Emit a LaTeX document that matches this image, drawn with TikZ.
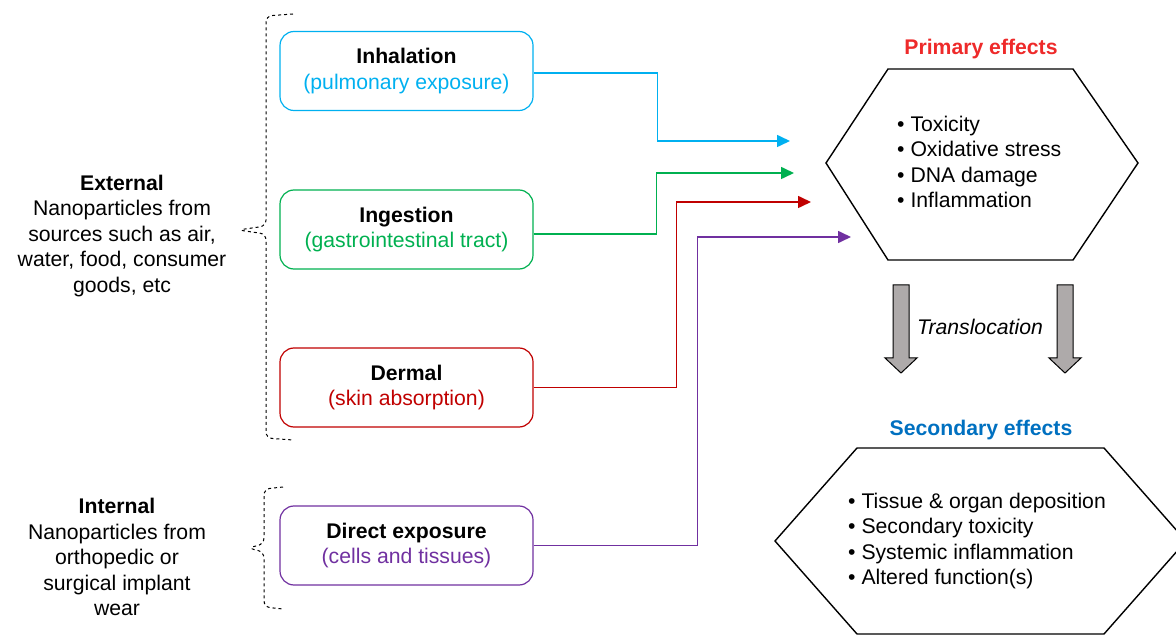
\documentclass[tikz,border=0pt]{standalone}
\usepackage{fontspec}
\setmainfont{Liberation Sans}
\usetikzlibrary{arrows.meta}
\definecolor{inhcol}{HTML}{00B0F0}
\definecolor{ingcol}{HTML}{00B050}
\definecolor{dercol}{HTML}{C00000}
\definecolor{dircol}{HTML}{7030A0}
\definecolor{pricol}{HTML}{EE2A2A}
\definecolor{seccol}{HTML}{0070C0}
\definecolor{trancol}{HTML}{AEAAAA}
\begin{document}
\begin{tikzpicture}[x=1pt, y=-1pt, >={Triangle[length=13pt,width=12pt]},
		every node/.style={font=\fontsize{21.2}{25.5}\selectfont, inner sep=0pt},
		route/.style={draw=#1, rounded corners=14pt, line width=1.2pt, minimum width=253pt, minimum height=79pt, align=center},
		wire/.style={->, line width=1.6pt},
		hexline/.style={line width=1.4pt},
		titlelbl/.style={font=\fontsize{21.2}{25.5}\selectfont\bfseries},
		bracket/.style={dashed, line width=1pt, rounded corners=6pt}]
	\useasboundingbox (0,0) rectangle (1176,636);

	% Manual node positions
	\node[align=center] (ext) at (122,236) {\textbf{External}\\Nanoparticles from\\sources such as air,\\water, food, consumer\\goods, etc};
	\node[align=center] (int) at (117,557) {\textbf{Internal}\\Nanoparticles from\\orthopedic or\\surgical implant\\wear};

	\node[route=inhcol] (inh) at (406.5,71) {\textbf{Inhalation}\\\textcolor{inhcol}{(pulmonary exposure)}};
	\node[route=ingcol] (ing) at (406.5,229.5) {\textbf{Ingestion}\\\textcolor{ingcol}{(gastrointestinal tract)}};
	\node[route=dercol] (der) at (406.5,387.5) {\textbf{Dermal}\\\textcolor{dercol}{(skin absorption)}};
	\node[route=dircol] (dir) at (406.5,545.5) {\textbf{Direct exposure}\\\textcolor{dircol}{(cells and tissues)}};

	\coordinate (inhend) at (790,141);
	\coordinate (ingend) at (794,173);
	\coordinate (derend) at (811,202);
	\coordinate (dirend) at (851,237);

	\node[titlelbl, text=pricol] (pri) at (981,49) {Primary effects};
	\node[align=left, anchor=west] (prilist) at (897,162) {• Toxicity\\• Oxidative stress\\• DNA damage\\• Inflammation};
	\node[font=\fontsize{21.2}{25.5}\selectfont\itshape] (tran) at (980,327) {Translocation};
	\node[titlelbl, text=seccol] (sec) at (981,430) {Secondary effects};
	\node[align=left, anchor=west] (seclist) at (848,541) {• Tissue \& organ deposition\\• Secondary toxicity\\• Systemic inflammation\\• Altered function(s)};

	% Hexagons
	\draw[hexline] (888,69) -- (1073,69) -- (1138,163) -- (1073,260) -- (888,260) -- (826,163) -- cycle;
	\draw[hexline] (857,448) -- (1104,448) -- (1186,541) -- (1104,634) -- (857,634) -- (775,541) -- cycle;

	% Translocation arrows
	\foreach \x in {901,1065}
		\draw[fill=trancol, line width=1pt] ({\x-8},285) -- ({\x+8},285) -- ({\x+8},358) -- ({\x+16},358) -- (\x,373) -- ({\x-16},358) -- ({\x-8},358) -- cycle;

	% Braces
	\draw[bracket] (293,14) -- (266,16) -- (266,226) -- (238,230) -- (266,234) -- (266,438) -- (293,440);
	\draw[bracket] (283,487) -- (264,489) -- (264,544) -- (248,548) -- (264,552) -- (264,607) -- (283,609);

	% Connections
	\draw[wire, inhcol] ([yshift=-2pt]inh.east) -- ++(124,0) |- (inhend);
	\draw[wire, ingcol] ([yshift=-4.5pt]ing.east) -- ++(123,0) |- (ingend);
	\draw[wire, dercol] (der.east) -- ++(143,0) |- (derend);
	\draw[wire, dircol] (dir.east) -- ++(164,0) |- (dirend);

\end{tikzpicture}
\end{document}
